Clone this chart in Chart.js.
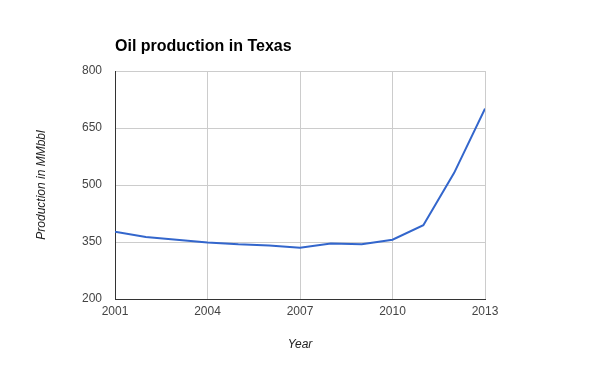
<!DOCTYPE html>
<html>
<head>
<meta charset="utf-8">
<script src="https://cdn.jsdelivr.net/npm/chart.js@4"></script>
<style>
  html, body { margin: 0; padding: 0; background: #fff; }
  #wrap { width: 600px; height: 371px; }
</style>
</head>
<body>
<div id="wrap"><canvas id="chart-area" width="600" height="371"></canvas></div>
<script>
// values
var years = [2001, 2002, 2003, 2004, 2005, 2006, 2007, 2008, 2009, 2010, 2011, 2012, 2013];
var production = [377, 363, 356, 349, 344, 341, 335, 346, 344, 356, 394, 532, 701];
var yTicks = [200, 350, 500, 650, 800];
var xTicks = [2001, 2004, 2007, 2010, 2013];

var chartTitle = 'Oil production in Texas';
var font = '"Liberation Sans", Arial, sans-serif';

var points = years.map(function (y, i) { return { x: y, y: production[i] }; });

// title drawn left-aligned with the plot area
var titlePlugin = {
  id: 'leftTitle',
  afterDraw: function (chart) {
    var ctx = chart.ctx;
    ctx.save();
    ctx.font = 'bold 16px ' + font;
    ctx.fillStyle = '#000';
    ctx.textAlign = 'left';
    ctx.textBaseline = 'alphabetic';
    ctx.fillText(chartTitle, chart.chartArea.left, 51);
    ctx.restore();
  }
};

var config = {
  type: 'line',
  data: {
    datasets: [{
      data: points,
      borderColor: '#3366cc',
      borderWidth: 2,
      pointRadius: 0,
      tension: 0,
      fill: false
    }]
  },
  options: {
    responsive: false,
    animation: false,
    layout: { padding: { top: 71, right: 115, left: 0, bottom: 0 } },
    plugins: {
      legend: { display: false },
      title: { display: false },
      tooltip: { enabled: false }
    },
    scales: {
      x: {
        type: 'linear',
        min: years[0],
        max: years[years.length - 1],
        afterBuildTicks: function (s) { s.ticks = xTicks.map(function (v) { return { value: v }; }); },
        afterFit: function (s) { s.height = 72; },
        ticks: {
          padding: 5,
          color: '#444',
          font: { family: font, size: 12 },
          maxRotation: 0,
          callback: function (v) { return String(v); }
        },
        grid: { color: '#cccccc', drawTicks: false },
        border: { color: '#333333', width: 1 },
        title: {
          display: true,
          text: 'Year',
          color: '#222',
          font: { family: font, size: 12, style: 'italic' },
          padding: { top: 0, bottom: 19 }
        }
      },
      y: {
        min: yTicks[0],
        max: yTicks[yTicks.length - 1],
        afterBuildTicks: function (s) { s.ticks = yTicks.map(function (v) { return { value: v }; }); },
        afterFit: function (s) { s.width = 115; },
        ticks: {
          padding: 13,
          color: '#444',
          font: { family: font, size: 12 }
        },
        grid: { color: '#cccccc', drawTicks: false },
        border: { color: '#333333', width: 1 },
        title: {
          display: true,
          text: 'Production in MMbbl',
          color: '#222',
          font: { family: font, size: 12, style: 'italic' },
          padding: { top: 34, bottom: 0 }
        }
      }
    }
  },
  plugins: [titlePlugin]
};

var ctx = document.getElementById('chart-area').getContext('2d');
window.myLine = new Chart(ctx, config);
</script>
</body>
</html>
